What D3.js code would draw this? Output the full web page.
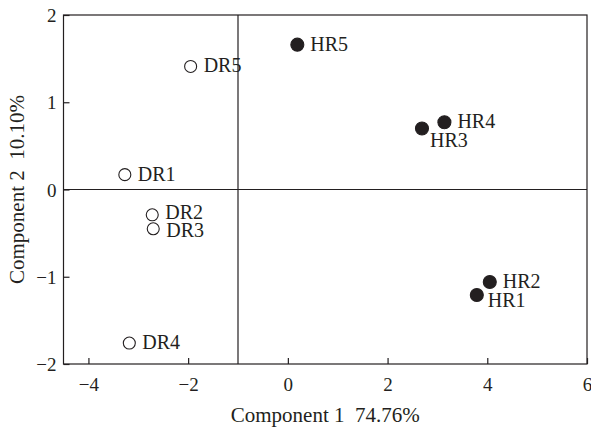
<!DOCTYPE html>
<html>
<head>
<meta charset="utf-8">
<script src="https://cdn.jsdelivr.net/npm/d3@7"></script>
<style>
	body { margin: 0; background: #fff; }
	svg text { font-family: "Liberation Serif", "Times New Roman", serif; fill: #231f20; }
</style>
</head>
<body>
<svg id="chart" width="591" height="428"></svg>
<script>
// sample names, PCA scores
const samples = ["DR1", "DR2", "DR3", "DR4", "DR5", "HR1", "HR2", "HR3", "HR4", "HR5"];
const comp1 = [-3.27, -2.72, -2.70, -3.18, -1.95, 3.79, 4.05, 2.69, 3.14, 0.19];
const comp2 = [0.17, -0.29, -0.45, -1.76, 1.41, -1.21, -1.06, 0.70, 0.77, 1.66];
const xTicks = [-4, -2, 0, 2, 4, 6];
const yTicks = [-2, -1, 0, 1, 2];

const svg = d3.select("#chart");
const margin = {top: 15, right: 4, bottom: 64, left: 63.5};
const width = +svg.attr("width") - margin.left - margin.right,
	height = +svg.attr("height") - margin.top - margin.bottom;

const x = d3.scaleLinear().domain([-4.5, 6]).range([0, width]);
const y = d3.scaleLinear().domain([-2, 2]).range([height, 0]);

const g = svg.append("g").attr("transform", `translate(${margin.left},${margin.top})`);
const ink = "#231f20";

// frame
g.append("rect")
	.attr("width", width).attr("height", height)
	.attr("fill", "none").attr("stroke", ink).attr("stroke-width", 1.2);

// reference lines at x = -1 and y = 0
g.append("line")
	.attr("x1", x(-1)).attr("x2", x(-1)).attr("y1", 0).attr("y2", height)
	.attr("stroke", ink).attr("stroke-width", 1.2);
g.append("line")
	.attr("x1", 0).attr("x2", width).attr("y1", y(0)).attr("y2", y(0))
	.attr("stroke", ink).attr("stroke-width", 1.2);

// axes with inward ticks
const fmt = d => d < 0 ? "\u2212" + Math.abs(d) : d;
const xAxis = g.append("g").attr("transform", `translate(0,${height})`)
	.call(d3.axisBottom(x).tickValues(xTicks).tickSize(-6).tickPadding(14).tickFormat(fmt));
const yAxis = g.append("g")
	.call(d3.axisLeft(y).tickValues(yTicks).tickSize(-6).tickPadding(7).tickFormat(fmt));
[xAxis, yAxis].forEach(a => {
	a.select(".domain").remove();
	a.selectAll(".tick line").attr("stroke", ink).attr("stroke-width", 1.2);
	a.selectAll(".tick text").style("font-size", "19px").attr("fill", ink);
});
yAxis.selectAll(".tick text").attr("dy", "0.35em");

// axis titles
svg.append("text")
	.attr("x", margin.left + x(0.75)).attr("y", 422)
	.attr("text-anchor", "middle").style("font-size", "21px")
	.text("Component 1\u00a0\u00a074.76%");
svg.append("text")
	.attr("transform", `translate(24,${margin.top + y(0)}) rotate(-90)`)
	.attr("text-anchor", "middle").style("font-size", "21px")
	.text("Component 2\u00a0\u00a010.10%");

// points
const data = samples.map((s, i) => ({name: s, c1: comp1[i], c2: comp2[i], hr: s.startsWith("HR")}));
// label offsets that differ from the default right-hand placement
const labelShift = {HR1: [11, 12], HR3: [8, 19], DR2: [13, 4], DR3: [13, 8]};

const pt = g.selectAll(".pt").data(data).enter().append("g").attr("class", "pt")
	.attr("transform", d => `translate(${x(d.c1)},${y(d.c2)})`);

pt.append("circle")
	.attr("r", d => d.hr ? 6.5 : 6)
	.attr("fill", d => d.hr ? ink : "#fff")
	.attr("stroke", ink).attr("stroke-width", 1.1);

pt.append("text")
	.attr("x", d => (labelShift[d.name] || [13, 6])[0])
	.attr("y", d => (labelShift[d.name] || [13, 6])[1])
	.style("font-size", "20px")
	.text(d => d.name);
</script>
</body>
</html>
